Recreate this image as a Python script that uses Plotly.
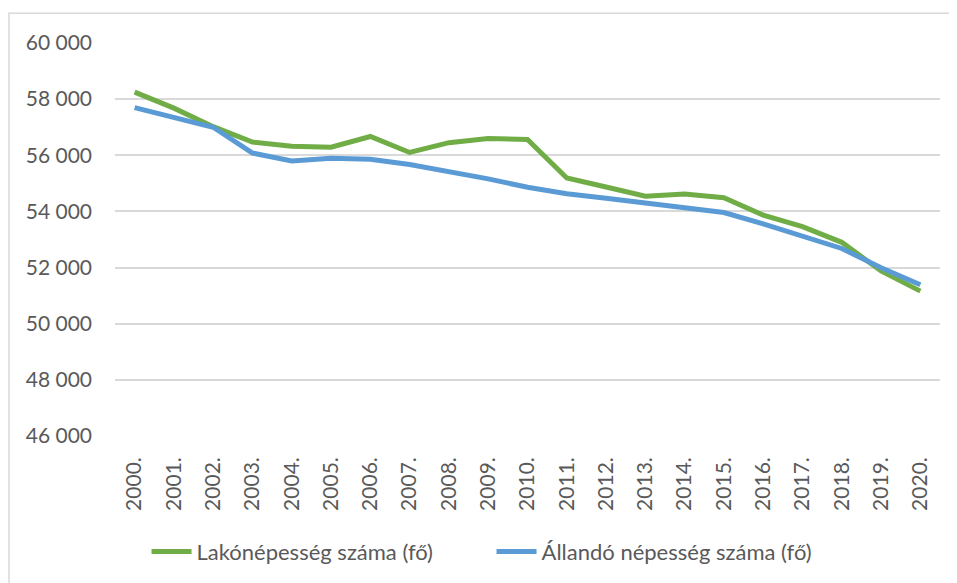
import plotly.graph_objects as go

years = ["2000.", "2001.", "2002.", "2003.", "2004.", "2005.", "2006.", "2007.", "2008.", "2009.",
         "2010.", "2011.", "2012.", "2013.", "2014.", "2015.", "2016.", "2017.", "2018.", "2019.", "2020."]
lakonepesseg = [58250, 57680, 57020, 56470, 56320, 56290, 56670, 56100, 56450, 56600,
                56560, 55190, 54870, 54540, 54620, 54490, 53870, 53460, 52900, 51880, 51160]
allando = [57700, 57340, 57000, 56080, 55800, 55890, 55860, 55670, 55420, 55160,
           54860, 54630, 54470, 54310, 54150, 53960, 53560, 53140, 52680, 51990, 51390]
y_ticks = [46000, 48000, 50000, 52000, 54000, 56000, 58000, 60000]
y_tick_labels = ["46 000", "48 000", "50 000", "52 000", "54 000", "56 000", "58 000", "60 000"]

fig = go.Figure()
fig.add_trace(go.Scatter(x=years, y=lakonepesseg, mode="lines", name="Lakónépesség száma (fő)",
                         line=dict(color="#70AD47", width=5)))
fig.add_trace(go.Scatter(x=years, y=allando, mode="lines", name="Állandó népesség száma (fő)",
                         line=dict(color="#5B9BD5", width=5)))

font_family = "Lato, 'Open Sans', sans-serif"
fig.update_layout(
    width=949, height=575,
    margin=dict(l=107, r=17, t=35, b=147, autoexpand=False),
    paper_bgcolor="white", plot_bgcolor="white",
    font=dict(family=font_family, color="#595959", size=21),
    showlegend=True,
    legend=dict(orientation="h", x=0.4564, xanchor="center", y=-0.2944, yanchor="middle",
                font=dict(size=22, color="#595959"), itemwidth=40, entrywidth=290,
                bgcolor="rgba(0,0,0,0)"),
    xaxis=dict(type="category", tickangle=-90, showgrid=False, zeroline=False, showline=False,
               ticks="", tickfont=dict(size=21, color="#595959"), ticklabelstandoff=16,
               range=[-0.5, len(years) - 0.5]),
    yaxis=dict(range=[46000, 60000], tickvals=y_ticks, ticktext=y_tick_labels,
               showgrid=True, gridcolor="#D9D9D9", gridwidth=1.5, zeroline=False, showline=False,
               ticks="", tickfont=dict(size=21, color="#595959"), ticklabelstandoff=22),
    shapes=[dict(type="rect", xref="paper", yref="paper", x0=-0.1285, x1=1.04, y0=-0.42, y1=1.0756,
                 line=dict(color="#D9D9D9", width=1.5), fillcolor="rgba(0,0,0,0)", layer="below")],
)

fig.write_html("out.html")
